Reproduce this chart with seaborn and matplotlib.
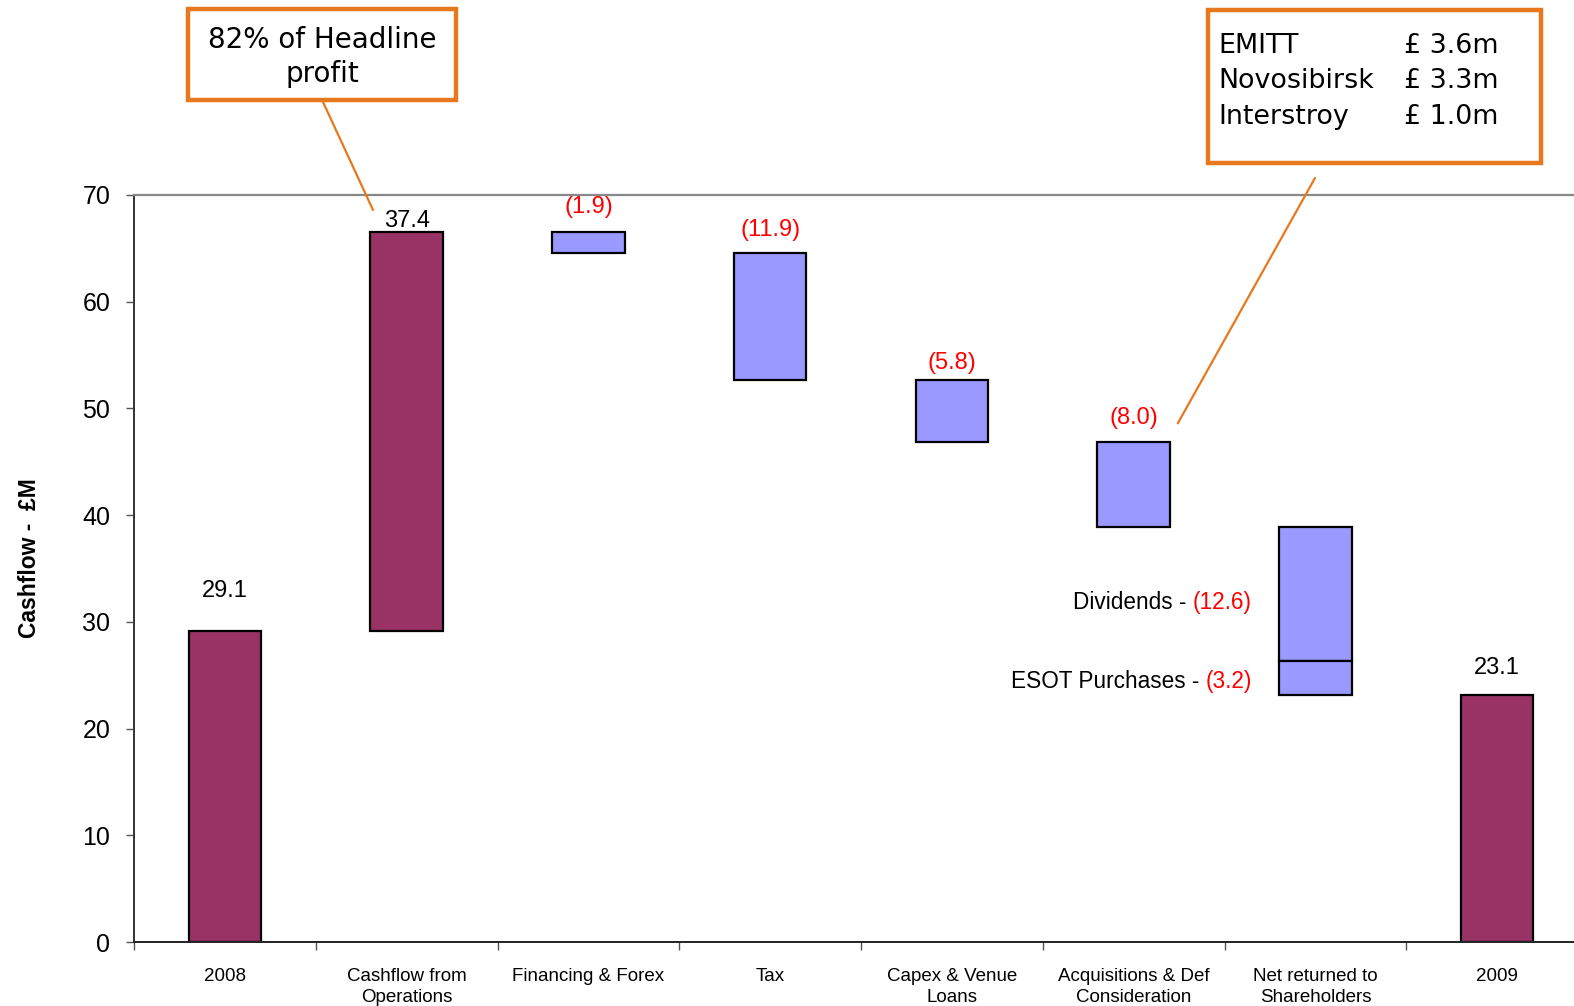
import matplotlib
matplotlib.use("Agg")
import matplotlib.pyplot as plt
from matplotlib.patches import Rectangle
import seaborn as sns
import pandas as pd

# ---- data -------------------------------------------------------------
categories = ["2008", "Cashflow from\nOperations", "Financing & Forex", "Tax",
              "Capex & Venue\nLoans", "Acquisitions & Def\nConsideration",
              "Net returned to\nShareholders", "2009"]
opening_cash = 29.1
closing_cash = 23.1
movements = [37.4, -1.9, -11.9, -5.8, -8.0]        # Operations .. Acquisitions
dividends = -12.6
esot_purchases = -3.2
acquisition_names = ["EMITT", "Novosibirsk", "Interstroy"]
acquisition_values = ["£ 3.6m", "£ 3.3m", "£ 1.0m"]
headline_note = "82% of Headline\nprofit"
y_ticks = [0, 10, 20, 30, 40, 50, 60, 70]

# ---- style ------------------------------------------------------------
MAROON = "#993366"
LILAC = "#9999FF"
ORANGE = "#E8781E"
RED = "#FF0000"
W, H = 1574, 1006

sns.set_theme(style="white")
plt.rcParams["font.family"] = ["Liberation Sans", "DejaVu Sans"]
plt.rcParams["text.color"] = "black"


def fmt(v):
    return f"{v:.1f}" if v >= 0 else f"({-v:.1f})"


def fig_xy(px, py):
    return (px / W, 1 - py / H)


fig = plt.figure(figsize=(W / 100, H / 100), dpi=100)
ax = fig.add_axes([134 / W, 1 - 942 / H, (1588 - 134) / W, (942 - 195) / H])

# opening and closing balances
totals = pd.DataFrame({"category": [categories[0], categories[-1]],
                       "cash": [opening_cash, closing_cash]})
sns.barplot(data=totals, x="category", y="cash", order=categories,
            color=MAROON, saturation=1, width=0.4, errorbar=None,
            edgecolor="black", linewidth=1.6, ax=ax)

# floating movement bars
level = opening_cash
label_points = [(0, opening_cash, fmt(opening_cash), "black", 29)]
offsets = [8, 18, 16.5, 12, 17]
for i, delta in enumerate(movements, start=1):
    ax.bar(i, delta, bottom=level, width=0.4,
           color=MAROON if delta > 0 else LILAC,
           edgecolor="black", linewidth=1.6, zorder=3)
    top = max(level, level + delta)
    label_points.append((i, top, fmt(delta), "black" if delta > 0 else RED,
                         offsets[i - 1]))
    level += delta

# shareholders: dividends stacked over ESOT purchases
for delta in (dividends, esot_purchases):
    ax.bar(6, delta, bottom=level, width=0.4, color=LILAC,
           edgecolor="black", linewidth=1.6, zorder=3)
    level += delta

label_points.append((7, closing_cash, fmt(closing_cash), "black", 20))

for x, y, txt, col, off in label_points:
    ax.annotate(txt, xy=(x, y), xytext=(0, off), textcoords="offset points",
                ha="center", va="center", fontsize=17, color=col)

# split labels for the shareholders bar
for y, name, val in [(31.8, "Dividends - ", dividends),
                     (24.4, "ESOT Purchases - ", esot_purchases)]:
    red = ax.text(5.65, y, fmt(val), color=RED, ha="right", va="center",
                  fontsize=16.3)
    ax.annotate(name, xy=(0, 0), xycoords=red, ha="right", va="bottom",
                fontsize=16.3, color="black")

# ---- axes -------------------------------------------------------------
ax.set_ylim(0, 70)
ax.set_xlim(-0.5, len(categories) - 0.5)
ax.set_yticks(y_ticks)
ax.set_yticklabels([str(t) for t in y_ticks], fontsize=18)
ax.set_xticks(range(len(categories)))
ax.set_xticklabels(categories, fontsize=13.5, linespacing=1.3)
ax.set_xticks([i - 0.5 for i in range(len(categories) + 1)], minor=True)
ax.tick_params(axis="x", which="major", length=0, pad=19, colors="black")
ax.tick_params(axis="x", which="minor", length=6, width=1, color="#555555",
               direction="out", bottom=True)
ax.tick_params(axis="y", length=6, width=1, color="#555555", pad=11,
               direction="out", left=True, labelcolor="black")
ax.set_xlabel("")
ax.set_ylabel("Cashflow -  £M", fontsize=16.5, fontweight="bold", color="black")
ax.yaxis.set_label_coords(-0.064, 0.514)

ax.spines["left"].set_color("#333333")
ax.spines["left"].set_linewidth(1.4)
ax.spines["bottom"].set_color("#222222")
ax.spines["bottom"].set_linewidth(1.4)
ax.spines["top"].set_color("#888888")
ax.spines["top"].set_linewidth(1.6)
ax.spines["right"].set_visible(False)
ax.grid(False)

# ---- callout boxes ----------------------------------------------------
def callout_box(x0, y0, x1, y1):
    (fx0, fy1), (fx1, fy0) = fig_xy(x0, y0), fig_xy(x1, y1)
    fig.add_artist(Rectangle((fx0, fy0), fx1 - fx0, fy1 - fy0,
                             transform=fig.transFigure, facecolor="white",
                             edgecolor=ORANGE, linewidth=3.2, zorder=5))

callout_box(188, 9, 456, 100)
fig.text(*fig_xy(322, 57), headline_note, ha="center", va="center",
         fontsize=20, family="DejaVu Sans", linespacing=1.3, color="black",
         zorder=6)
ax.annotate("", xy=(0.815, 68.6), xycoords="data",
            xytext=fig_xy(323, 102), textcoords="figure fraction",
            arrowprops=dict(arrowstyle="-", color=ORANGE, lw=1.6,
                            shrinkA=0, shrinkB=0))

callout_box(1208, 10, 1541, 163)
for k, (name, val) in enumerate(zip(acquisition_names, acquisition_values)):
    py = 46 + 35.5 * k
    fig.text(*fig_xy(1218, py), name, ha="left", va="center", fontsize=19.4,
             family="DejaVu Sans", color="black", zorder=6)
    fig.text(*fig_xy(1404, py), val, ha="left", va="center", fontsize=19.4,
             family="DejaVu Sans", color="black", zorder=6)
ax.annotate("", xy=(5.243, 48.6), xycoords="data",
            xytext=fig_xy(1315, 178), textcoords="figure fraction",
            arrowprops=dict(arrowstyle="-", color=ORANGE, lw=1.6,
                            shrinkA=0, shrinkB=0))

fig.savefig("out.png", dpi=100, facecolor="white")
